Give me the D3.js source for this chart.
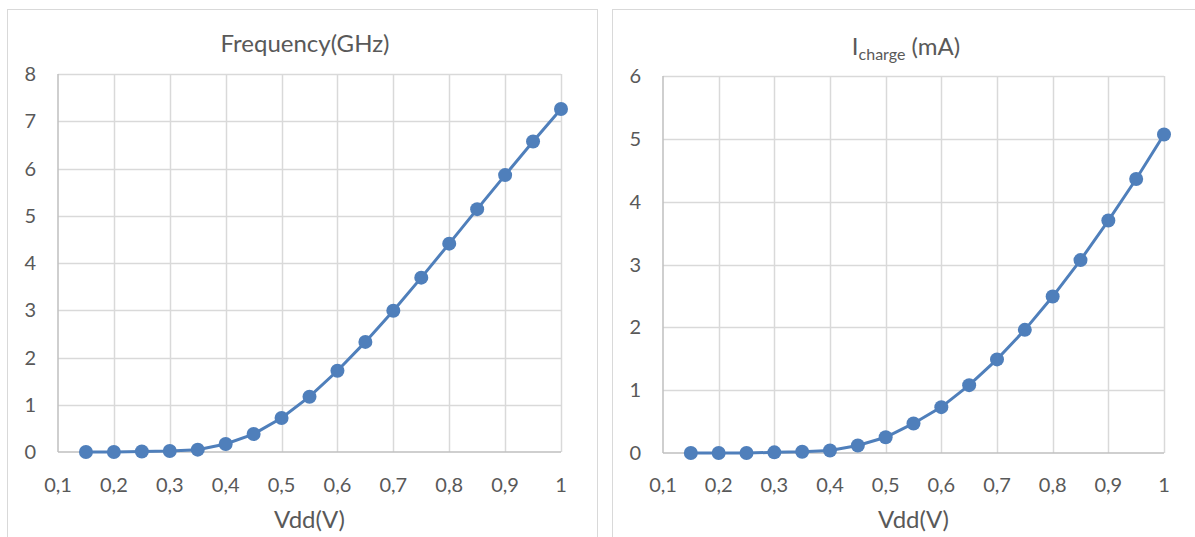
<!DOCTYPE html>
<html><head><meta charset="utf-8">
<script src="https://cdn.jsdelivr.net/npm/d3@7"></script>
<style>body{margin:0;background:#fff;} text{font-family:Lato,"Open Sans",sans-serif;fill:#595959;}</style>
</head><body>
<svg id="c" width="1195" height="537"></svg>
<script>
const vdd = [0.15,0.2,0.25,0.3,0.35,0.4,0.45,0.5,0.55,0.6,0.65,0.7,0.75,0.8,0.85,0.9,0.95,1.0];
const freqGHz = [0,0,0.01,0.02,0.05,0.17,0.38,0.72,1.17,1.72,2.33,2.99,3.69,4.41,5.14,5.86,6.57,7.26];
const ichargeMA = [0,0,0,0.01,0.02,0.04,0.12,0.25,0.47,0.73,1.08,1.49,1.96,2.49,3.07,3.70,4.36,5.07];
const xTicks = [0.1,0.2,0.3,0.4,0.5,0.6,0.7,0.8,0.9,1];
const freqTicks = [0,1,2,3,4,5,6,7,8];
const ichTicks = [0,1,2,3,4,5,6];

const svg = d3.select("#c");
const color = "#4f7fbb";

function panel(cfg){
  const g = svg.append("g");
  g.append("rect").attr("x",cfg.bx+0.5).attr("y",9.5).attr("width",cfg.bw).attr("height",540)
    .attr("fill","#fff").attr("stroke","#d9d9d9");
  const x = d3.scaleLinear().domain([0.1,1]).range([cfg.x0,cfg.x1]);
  const y = d3.scaleLinear().domain([0,cfg.ymax]).range([cfg.y0,cfg.y1]);
  g.append("g").selectAll("line").data(cfg.yTicks.slice(1)).join("line")
    .attr("x1",cfg.x0).attr("x2",cfg.x1).attr("y1",d=>Math.round(y(d))+0.5).attr("y2",d=>Math.round(y(d))+0.5)
    .attr("stroke","#d9d9d9").attr("stroke-width",1.5);
  g.append("g").selectAll("line").data(xTicks.slice(1)).join("line")
    .attr("x1",d=>Math.round(x(d))+0.5).attr("x2",d=>Math.round(x(d))+0.5).attr("y1",cfg.y0).attr("y2",cfg.y1)
    .attr("stroke","#d9d9d9").attr("stroke-width",1.5);
  g.append("line").attr("x1",cfg.x0).attr("x2",cfg.x0).attr("y1",cfg.y0).attr("y2",cfg.y1).attr("stroke","#bfbfbf").attr("stroke-width",1.5);
  g.append("line").attr("x1",cfg.x0).attr("x2",cfg.x1).attr("y1",cfg.y0).attr("y2",cfg.y0).attr("stroke","#bfbfbf").attr("stroke-width",1.5);
  g.append("g").selectAll("text").data(cfg.yTicks).join("text")
    .attr("x",cfg.x0-22).attr("y",d=>y(d)+7).attr("text-anchor","end")
    .attr("font-size",20).text(d=>d);
  g.append("g").selectAll("text").data(xTicks).join("text")
    .attr("x",d=>x(d)).attr("y",492).attr("text-anchor","middle")
    .attr("font-size",20).text(d=>String(d).replace(".",","));
  g.append("text").attr("x",(cfg.x0+cfg.x1)/2).attr("y",528)
    .attr("text-anchor","middle").attr("font-size",24).text("Vdd(V)");
  cfg.title(g);
  const line = d3.line().x((d,i)=>x(vdd[i])).y(d=>y(d));
  g.append("path").datum(cfg.data).attr("d",line).attr("fill","none").attr("stroke",color).attr("stroke-width",3);
  g.append("g").selectAll("circle").data(cfg.data).join("circle")
    .attr("cx",(d,i)=>x(vdd[i])).attr("cy",d=>y(d)).attr("r",7).attr("fill",color);
}

panel({bx:7,bw:590,x0:58,x1:561,y0:452,y1:74,ymax:8,yTicks:freqTicks,data:freqGHz,
  title:g=>g.append("text").attr("x",305).attr("y",52).attr("text-anchor","middle").attr("font-size",24).text("Frequency(GHz)")});
panel({bx:612,bw:590,x0:663,x1:1164,y0:453,y1:76,ymax:6,yTicks:ichTicks,data:ichargeMA,
  title:g=>{const t=g.append("text").attr("x",906).attr("y",55).attr("text-anchor","middle").attr("font-size",24);
    t.append("tspan").text("I");
    t.append("tspan").attr("font-size",16).attr("dy",5).text("charge");
    t.append("tspan").attr("dy",-5).text(" (mA)");}});
</script>
</body></html>
